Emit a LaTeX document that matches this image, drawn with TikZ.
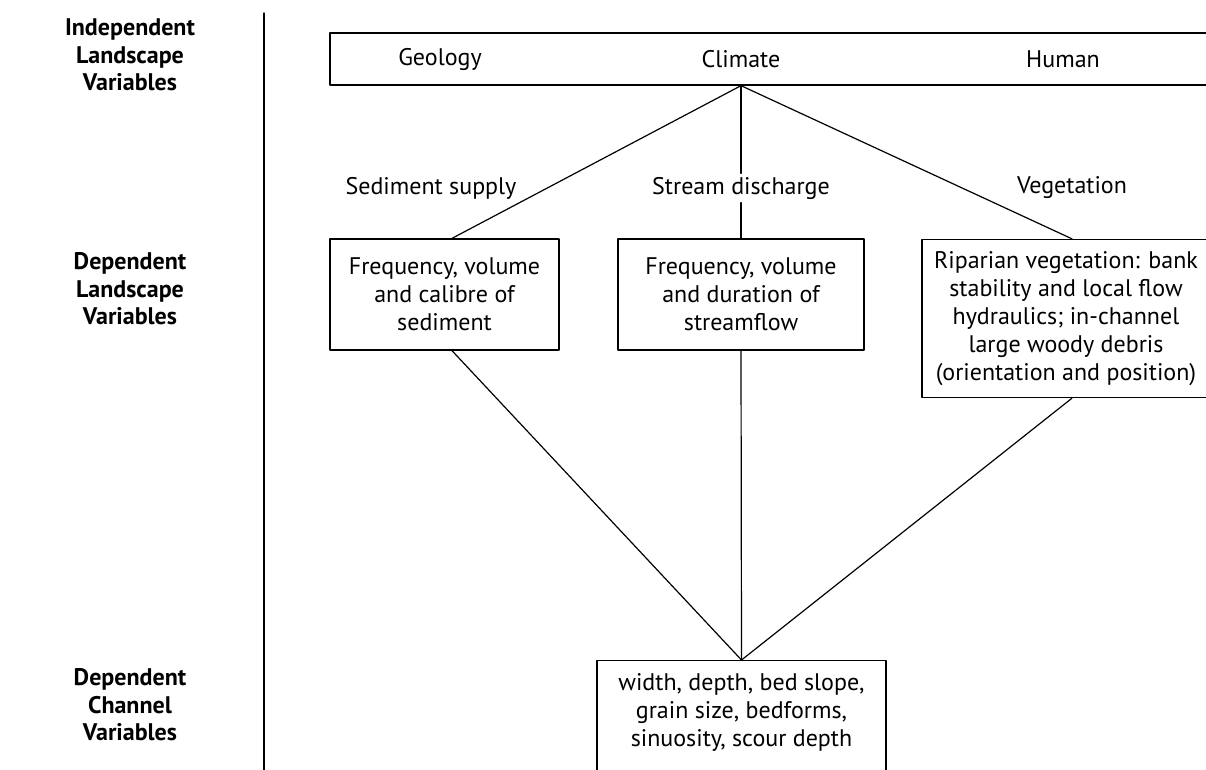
\documentclass[tikz,border=0pt]{standalone}
\usepackage{fontspec}
\setmainfont{PT Sans}
\usetikzlibrary{positioning}

\begin{document}
\begin{tikzpicture}[line cap=round,line join=round,x=1pt,y=-1pt,
    box/.style={draw, line width=1.3pt, inner sep=0pt},
    txt/.style={align=center, font=\fontsize{24}{28}\selectfont},
    side/.style={align=center, font=\bfseries\fontsize{24}{27.5}\selectfont},
    link/.style={line width=1.2pt}]
    \clip (0,0) rectangle (1206,769);

    % row labels and divider
    \node[side] (indep) at (130,55) {Independent\\Landscape\\Variables};
    \node[side] (deplan) at (130,289) {Dependent\\Landscape\\Variables};
    \node[side] (depchan) at (130,705) {Dependent\\Channel\\Variables};
    \coordinate (divtop) at (264,13);
    \coordinate (divbot) at (264,780);
    \draw [link] (divtop) -- (divbot);

    % independent variables
    \node[box, minimum width=890, minimum height=52] (indbox) at (775,59) {};
    \node[txt] (geology) at (440,59) {Geology};
    \node[txt] (climate) at (741,59) {Climate};
    \node[txt] (human) at (1063,59) {Human};
    \coordinate (apex) at (climate |- indbox.south);

    % dependent landscape variables
    \node[txt] (supply) at (431,188) {Sediment supply};
    \node[txt] (discharge) at (741,188) {Stream discharge};
    \node[txt] (veg) at (1072,188) {Vegetation};

    \node[box, txt, minimum width=229, minimum height=111] (sed) at (444.5,294.5) {Frequency, volume\\and calibre of\\sediment};
    \node[box, txt, minimum width=246, minimum height=111] (flow) at (741,294.5) {Frequency, volume\\and duration of\\streamflow};
    \node[box, txt, minimum width=288, minimum height=158] (ripar) at (1066,318.5) {Riparian vegetation: bank\\stability and local flow\\hydraulics; in-channel\\large woody debris\\(orientation and position)};

    % dependent channel variables
    \node[box, minimum width=289, minimum height=150, anchor=north] (chan) at (741.5,660) {};
    \node[txt] (chantxt) at (741.5,712) {width, depth, bed slope,\\grain size, bedforms,\\sinuosity, scour depth};

    \draw [link] (apex) -- ([xshift=7.5pt]sed.north);
    \draw [link] (apex) -- (apex |- discharge.north);
    \draw [link] (apex |- discharge.south) -- (flow.north);
    \draw [link] (apex) -- ([xshift=6pt]ripar.north);

    \draw [link] ([xshift=7.5pt]sed.south) -- (chan.north);
    \draw [link] (flow.south) -- (chan.north);
    \draw [link] ([xshift=6pt]ripar.south) -- (chan.north);
\end{tikzpicture}
\end{document}
